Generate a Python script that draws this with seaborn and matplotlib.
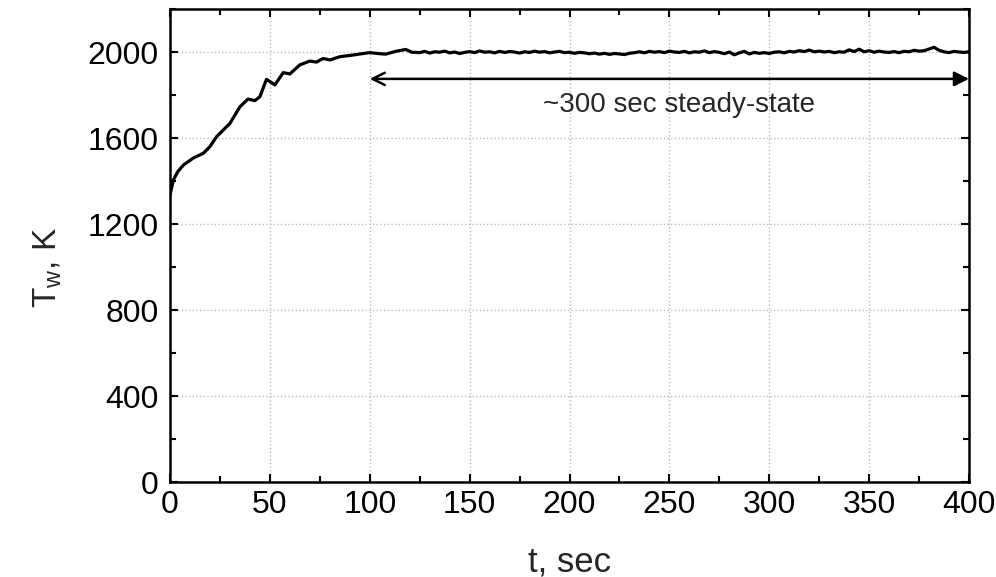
import numpy as np
import matplotlib
matplotlib.use("Agg")
import matplotlib.pyplot as plt
import seaborn as sns

# Wall temperature: warm-up part
t_ramp = [0, 1.7, 4, 6.7, 11.7, 16.7, 20, 23.3, 30, 35, 39, 42.5, 45, 48.3, 52.5,
          56.7, 60, 65, 70, 73.3, 76.7, 80, 85, 91.7, 96, 100, 104, 108, 113, 118, 121]
T_ramp = [1335, 1405, 1445, 1474, 1507, 1529, 1560, 1606, 1668, 1745, 1781, 1774, 1792,
          1873, 1847, 1904, 1898, 1940, 1958, 1953, 1970, 1963, 1978, 1986, 1992, 1997,
          1993, 1990, 2003, 2012, 1999]

# Steady-state part, sampled every 2.5 s from 125 to 400 s
T_steady = [1997, 2003, 1995, 2001, 1999, 2004, 1996, 2000, 1993, 1998, 2002, 1997, 2005,
            1999, 2001, 1996, 2003, 1998, 2002, 2000, 1995,
            2001, 1998, 2004, 1999, 2002, 1996, 2000, 2003, 1997, 1999, 1994, 1998, 1996,
            1992, 1995, 1990, 1994, 1989, 1993, 1991,
            1988, 1994, 1997, 2001, 1996, 2003, 1999, 2002, 1997, 2004, 2000, 1998, 2003,
            1996, 2001, 1999, 2005, 1997, 2002, 1998,
            1992, 2000, 1987, 1996, 2003, 1991, 1998, 1994, 1997, 1993, 1999, 2001, 1996,
            2003, 2000, 2006, 2002, 2009, 2001, 2004,
            2000, 2003, 1997, 2001, 1999, 2010, 2002, 2013, 2001, 2006, 1999, 2004, 2000,
            1998, 2002, 1997, 2003, 2001, 2008, 2004,
            2006, 2014, 2022, 2008, 2001, 1997, 2003, 2000, 1998, 2001]
t_steady = list(np.arange(125, 400.01, 2.5))

t = t_ramp + t_steady
T = T_ramp + T_steady

sns.set_style("ticks")
plt.rcParams['font.family'] = ['Liberation Sans', 'DejaVu Sans']
plt.rcParams['mathtext.default'] = 'regular'

fig = plt.figure(figsize=(9.96, 5.77), dpi=100)
ax = fig.add_axes([170/996, 1 - 482/577, (969 - 170)/996, (482 - 9)/577])

sns.lineplot(x=t, y=T, ax=ax, color='black', linewidth=2.3, estimator=None, sort=False)

ax.set_xlim(0, 400)
ax.set_ylim(0, 2200)
ax.set_xticks(np.arange(0, 401, 50))
ax.set_xticks(np.arange(0, 401, 25), minor=True)
ax.set_yticks(np.arange(0, 2001, 400))
ax.set_yticks(np.arange(0, 2201, 200), minor=True)
ax.grid(True, which='major', linestyle=':', color='#bbbbbb', linewidth=1)
ax.set_axisbelow(True)

ax.tick_params(which='both', direction='in', top=True, right=True, width=1.5,
               labelsize=23, colors='black')
ax.tick_params(axis='x', pad=6)
ax.tick_params(axis='y', pad=8)
ax.tick_params(which='major', length=6)
ax.tick_params(which='minor', length=4)
for s in ax.spines.values():
    s.set_linewidth(1.8)
    s.set_color('black')

ax.set_xlabel('t, sec', fontsize=25)
ax.set_ylabel('T$_w$, K', fontsize=24)
ax.xaxis.set_label_coords(0.5, (482 - 545) / 473)
ax.yaxis.set_label_coords((64 - 170) / 799, (482 - 268) / 473)

# double arrow marking the steady-state interval
ax.annotate('', xy=(100, 1875), xytext=(250, 1875),
            arrowprops=dict(arrowstyle='->', color='black', lw=1.8, mutation_scale=22,
                            shrinkA=0, shrinkB=0))
ax.annotate('', xy=(400, 1875), xytext=(250, 1875),
            arrowprops=dict(arrowstyle='-|>', color='black', lw=1.8, mutation_scale=22,
                            shrinkA=0, shrinkB=0))
ax.text(255, 1753, '~300 sec steady-state', fontsize=20, ha='center', va='center')

fig.savefig('out.png', dpi=100)
